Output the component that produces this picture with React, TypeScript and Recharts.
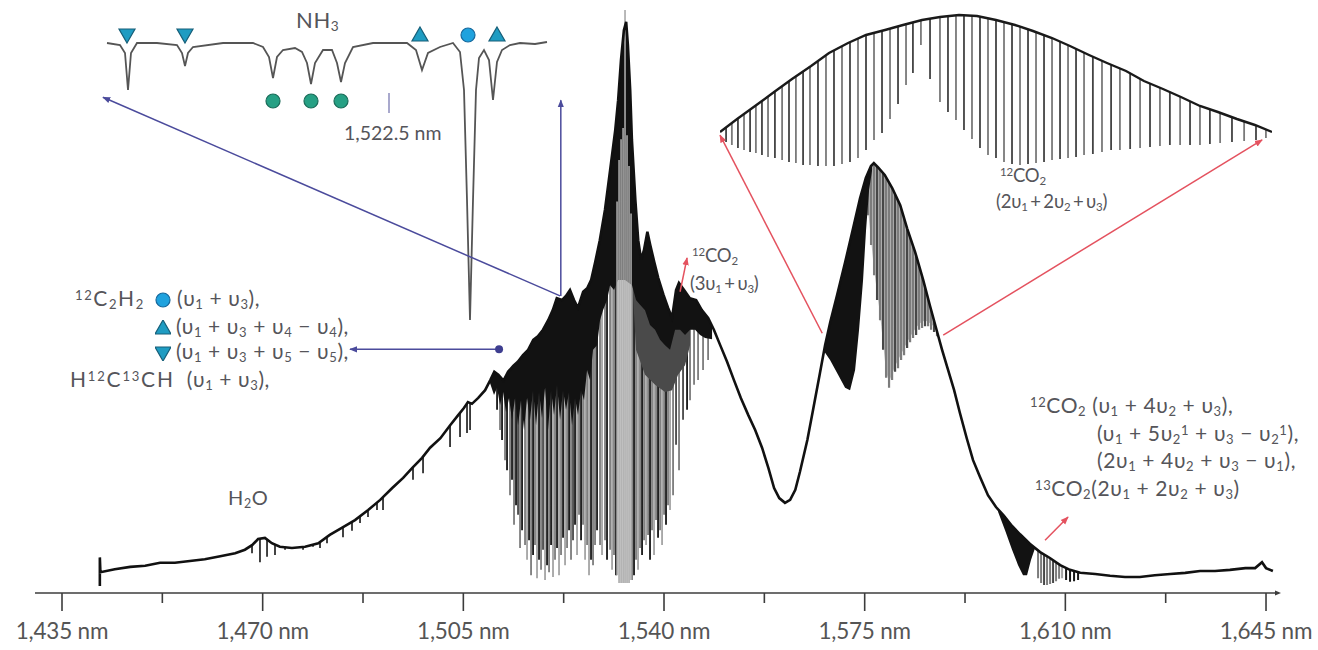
import React from 'react';
import { ComposedChart, Line, Area, Scatter, XAxis, YAxis } from 'recharts';

type Tone = 'k' | 'd' | 'g' | 'l';

// ---------------- main spectrum : wavelength (nm) vs relative power (a.u.) ----------------
const wavelengthDomain: [number, number] = [1430.29, 1647.09];
const powerDomain: [number, number] = [0, 100];
const majorTicks = [1435, 1470, 1505, 1540, 1575, 1610, 1645];
const minorTicks = [1452.5, 1487.5, 1522.5, 1557.5, 1592.5, 1627.5];

// upper edge of the transmitted comb spectrum
const envelope: [number, number][] = [
  [1441.6, 1.2], [1441.6, 6.0], [1441.7, 3.5], [1444.2, 4.0], [1446.9, 4.4], [1449.5, 4.6], [1452.1, 5.1],
  [1454.7, 5.1], [1457.3, 5.4], [1459.9, 5.7], [1462.6, 6.2], [1465.2, 6.7], [1466.9, 7.3], [1468.2, 8.1],
  [1469.2, 9.1], [1470.4, 9.3], [1471.6, 8.4], [1473.0, 7.8], [1475.1, 7.6], [1477.4, 7.8], [1479.7, 8.4],
  [1481.7, 9.8], [1483.8, 11.0], [1486.1, 12.3], [1488.4, 14.0], [1490.5, 15.7], [1492.6, 17.7], [1494.5, 19.4],
  [1496.1, 21.1], [1497.8, 22.8], [1499.2, 24.5], [1501.0, 26.1], [1502.7, 28.3], [1504.1, 30.0], [1505.1, 31.2],
  [1505.8, 32.2], [1506.5, 31.9], [1507.6, 32.9], [1508.8, 34.2], [1509.7, 35.9], [1510.4, 37.3], [1511.1, 36.8],
  [1512.0, 35.8], [1512.8, 37.3], [1513.7, 38.3], [1514.5, 39.0], [1515.4, 40.1], [1516.3, 41.0], [1517.2, 42.7],
  [1518.0, 43.3], [1518.9, 44.4], [1519.8, 46.0], [1520.6, 47.7], [1521.3, 49.7], [1522.2, 49.4], [1522.9, 50.1],
  [1523.6, 51.1], [1524.3, 49.4], [1525.0, 48.1], [1525.9, 50.8], [1526.6, 51.4], [1527.3, 52.8], [1528.0, 55.8],
  [1528.8, 59.5], [1529.7, 64.6], [1530.6, 71.3], [1531.5, 78.1], [1532.0, 83.1], [1532.5, 89.9], [1533.0, 94.9],
  [1533.4, 96.3], [1533.7, 92.4], [1534.1, 84.8], [1534.4, 76.4], [1535.0, 66.3], [1535.5, 59.5], [1536.0, 56.2],
  [1536.5, 57.8], [1537.1, 60.9], [1537.6, 58.7], [1538.3, 55.8], [1539.0, 53.1], [1539.9, 50.3], [1540.7, 48.1],
  [1541.4, 46.4], [1542.1, 51.1], [1542.6, 52.3], [1543.5, 51.1], [1544.5, 49.7], [1545.6, 49.4], [1546.6, 47.7],
  [1547.7, 46.4], [1548.7, 44.4], [1549.8, 41.8], [1551.0, 39.0], [1552.2, 35.9], [1553.4, 32.9], [1554.7, 30.0],
  [1555.9, 27.5], [1557.1, 24.5], [1558.2, 21.1], [1559.2, 17.7], [1560.1, 16.0], [1561.1, 15.2], [1562.0, 15.7],
  [1562.9, 17.4], [1563.7, 20.4], [1565.0, 25.8], [1566.0, 30.9], [1567.2, 37.1], [1568.1, 41.8], [1569.0, 45.7],
  [1570.2, 50.3], [1571.6, 55.8], [1573.0, 61.6], [1574.2, 66.6], [1575.2, 70.0], [1576.1, 72.0], [1576.6, 72.5],
  [1577.3, 71.8], [1578.5, 70.5], [1579.8, 68.3], [1581.2, 65.4], [1582.4, 61.5], [1583.8, 57.5], [1585.2, 52.8],
  [1586.4, 48.4], [1587.7, 43.8], [1588.5, 41.0], [1589.4, 38.1], [1590.6, 34.2], [1591.6, 30.4], [1592.8, 26.1],
  [1593.9, 22.4], [1595.1, 19.6], [1596.5, 16.5], [1597.9, 14.5], [1599.3, 13.0], [1600.7, 11.3], [1602.1, 9.9],
  [1603.8, 8.3], [1605.6, 6.9], [1607.3, 5.9], [1609.1, 4.7], [1610.8, 3.9], [1612.6, 3.4], [1615.2, 3.2],
  [1617.8, 2.9], [1620.4, 2.7], [1623.0, 2.7], [1625.6, 3.0], [1628.3, 3.2], [1630.9, 3.4], [1633.5, 3.7],
  [1636.1, 3.7], [1638.7, 3.9], [1641.4, 4.2], [1643.1, 4.2], [1644.3, 5.2], [1645.0, 4.2], [1646.2, 3.7],
];

// weak absorption lines (H2O etc.): [wavelength, lowest power]
const weakLines: [number, number][] = [
  [1468.14, 6.7], [1469.53, 5.2], [1470.76, 6.1], [1472.15, 6.4], [1473.9, 7.3], [1477.04, 7.3], [1478.78, 7.8],
  [1480.0, 7.6], [1481.22, 8.4], [1484.01, 9.4], [1485.58, 10.5], [1486.98, 11.8], [1488.37, 12.8], [1489.94, 14.0],
  [1490.99, 14.0], [1496.22, 19.1], [1497.97, 20.2], [1502.68, 24.6], [1504.42, 26.3], [1505.64, 27.0], [1506.17, 27.5],
];

// C2H2 / NH3 band lines: [wavelength, lowest power, shade]
const denseLines: [number, number, Tone][] = [
  [1510.88, 30.9, 'k'], [1511.4, 27.5, 'g'], [1511.75, 25.8, 'k'], [1512.27, 22.4, 'g'], [1512.62, 20.7, 'k'],
  [1513.14, 16.5, 'g'], [1513.49, 19.1, 'k'], [1513.84, 11.5, 'g'], [1514.19, 14.8, 'k'], [1514.54, 13.2, 'd'],
  [1514.89, 7.6, 'g'], [1515.24, 10.6, 'k'], [1515.76, 8.1, 'g'], [1516.11, 5.6, 'l'], [1516.46, 8.9, 'k'],
  [1516.81, 3.0, 'g'], [1517.16, 6.4, 'k'], [1517.5, 8.1, 'g'], [1517.85, 2.5, 'l'], [1518.2, 5.6, 'k'],
  [1518.55, 3.9, 'g'], [1518.9, 7.3, 'd'], [1519.25, 2.2, 'l'], [1519.6, 4.7, 'k'], [1519.95, 3.5, 'g'],
  [1520.3, 8.1, 'k'], [1520.64, 2.7, 'l'], [1520.99, 5.6, 'g'], [1521.34, 7.6, 'k'], [1521.69, 3.0, 'l'],
  [1522.04, 6.4, 'g'], [1522.39, 9.3, 'k'], [1522.74, 4.7, 'l'], [1523.09, 7.6, 'g'], [1523.44, 10.6, 'k'],
  [1523.78, 5.6, 'g'], [1524.13, 8.9, 'd'], [1524.48, 11.5, 'k'], [1524.83, 6.4, 'l'], [1525.18, 13.2, 'g'],
  [1525.53, 8.9, 'k'], [1525.88, 11.5, 'g'], [1526.23, 5.6, 'l'], [1526.58, 8.1, 'g'], [1526.92, 3.0, 'l'],
  [1527.27, 5.6, 'k'], [1527.62, 4.7, 'g'], [1527.97, 8.1, 'g'], [1528.32, 10.6, 'k'], [1528.84, 8.1, 'g'],
  [1529.19, 6.4, 'l'], [1529.71, 8.9, 'g'], [1530.06, 5.6, 'k'], [1530.59, 7.3, 'g'], [1530.94, 3.9, 'l'],
  [1531.28, 6.4, 'g'], [1531.63, 3.0, 'k'], [1534.42, 2.2, 'g'], [1534.77, 3.0, 'k'], [1535.12, 5.6, 'g'],
  [1535.47, 3.9, 'l'], [1535.82, 7.6, 'g'], [1536.17, 6.4, 'k'], [1536.52, 8.9, 'g'], [1536.87, 8.1, 'l'],
  [1537.22, 9.8, 'g'], [1537.56, 5.6, 'k'], [1537.91, 10.6, 'g'], [1538.26, 6.4, 'l'], [1538.61, 12.3, 'g'],
  [1538.96, 9.3, 'k'], [1539.31, 10.6, 'g'], [1539.66, 8.1, 'l'], [1540.01, 13.2, 'g'], [1540.35, 11.5, 'k'],
  [1540.7, 14.8, 'g'], [1541.05, 14.0, 'l'], [1541.58, 16.5, 'g'], [1542.1, 25.0, 'd'], [1542.62, 20.7, 'g'],
  [1543.32, 29.2, 'd'], [1544.02, 30.9, 'k'], [1544.54, 32.5, 'g'], [1545.24, 35.1, 'g'], [1545.94, 35.9, 'g'],
  [1546.81, 37.6, 'g'], [1547.69, 39.3, 'g'],
];

// central lines of the strongest peak: [wavelength, top, lowest power]
const peakLines: [number, number, number][] = [
  [1531.81, 66.0, 3.0], [1532.16, 73.0, 1.7], [1532.51, 76.5, 1.7], [1532.86, 78.4, 1.7],
  [1533.2, 98.3, 1.7], [1533.55, 77.2, 1.7], [1533.9, 72.0, 1.7], [1534.25, 64.0, 2.2],
];

// 12CO2 (2v1+2v2+v3) R-branch lines
const co2Lines: [number, number, Tone][] = [
  [1575.59, 63.7, 'g'], [1576.11, 58.7, 'g'], [1576.64, 53.6, 'g'], [1577.16, 49.4, 'd'], [1577.68, 46.0, 'g'],
  [1578.21, 41.0, 'd'], [1578.73, 36.3, 'g'], [1579.25, 34.6, 'g'], [1579.78, 35.9, 'g'], [1580.3, 37.3, 'd'],
  [1580.82, 37.9, 'g'], [1581.35, 39.3, 'g'], [1581.87, 40.1, 'g'], [1582.4, 41.3, 'd'], [1582.92, 42.3, 'g'],
  [1583.44, 43.0, 'g'], [1583.97, 43.5, 'd'], [1584.49, 44.4, 'g'], [1585.01, 44.7, 'g'], [1585.53, 45.0, 'd'],
  [1586.06, 45.0, 'g'], [1586.58, 44.4, 'g'], [1587.1, 44.0, 'd'], [1587.62, 43.3, 'g'],
];

// lines of the weak bands near 1,605 nm
const band1605Lines: [number, number, Tone][] = [
  [1605.24, 2.5, 'g'], [1605.77, 1.7, 'g'], [1606.29, 1.35, 'd'], [1606.81, 1.35, 'g'], [1607.34, 1.5, 'g'],
  [1607.86, 1.7, 'd'], [1608.38, 2.0, 'g'], [1608.91, 2.4, 'g'], [1609.43, 2.5, 'l'], [1610.13, 2.2, 'k'],
  [1610.82, 1.9, 'k'], [1611.52, 2.0, 'k'], [1612.22, 2.2, 'k'],
];

// fully absorbed (black) regions: lower edge [wavelength, power]
const blackBandC2H2: [number, number][] = [
  [1509.65, 35.4], [1510.35, 33.4], [1510.88, 34.6], [1511.4, 31.7], [1511.92, 33.9], [1512.45, 30.5],
  [1512.97, 32.9], [1513.49, 29.2], [1514.02, 32.9], [1514.54, 28.3], [1515.06, 32.5], [1515.59, 27.5],
  [1516.11, 32.9], [1516.63, 29.2], [1517.16, 34.2], [1517.68, 28.3], [1518.2, 33.9], [1518.72, 29.5],
  [1519.25, 34.6], [1519.77, 27.5], [1520.3, 34.2], [1520.82, 30.0], [1521.34, 35.1], [1521.87, 29.2],
  [1522.39, 34.2], [1522.91, 30.9], [1523.44, 33.9], [1523.96, 28.3], [1524.48, 32.9], [1525.0, 30.0],
  [1525.53, 34.2], [1526.05, 32.5], [1526.58, 37.6], [1527.1, 35.9], [1527.62, 41.0], [1528.32, 41.8],
  [1528.84, 46.0], [1529.36, 47.7], [1530.06, 49.4], [1530.59, 51.9], [1531.28, 51.1], [1531.98, 52.8],
  [1533.2, 52.8], [1534.42, 51.9], [1535.12, 49.4], [1535.82, 48.6], [1536.69, 47.7], [1537.56, 45.2],
  [1538.44, 44.4], [1539.31, 42.7], [1540.18, 41.8], [1541.05, 41.0], [1541.93, 44.4], [1542.8, 44.4],
  [1543.67, 43.5], [1544.54, 44.4], [1545.42, 44.4], [1546.29, 43.5], [1547.16, 43.0], [1548.38, 42.8],
];
const blackBandCO2: [number, number][] = [
  [1567.74, 41.0], [1568.96, 39.3], [1570.36, 36.8], [1571.58, 34.6], [1572.45, 34.2], [1573.33, 37.6],
  [1574.02, 44.4], [1574.72, 52.8], [1575.24, 61.2], [1575.77, 68.0], [1576.29, 71.3],
];
const blackBand1603: [number, number][] = [
  [1598.26, 13.7], [1599.48, 10.6], [1600.7, 7.3], [1601.75, 4.7], [1602.62, 3.0], [1603.32, 3.0],
  [1604.02, 5.6], [1604.72, 7.6],
];
// dense dark-grey region right of the strongest peak: lower edge
const darkBandRight: [number, number][] = [
  [1534.6, 50.0], [1535.12, 41.0], [1536.69, 36.8], [1538.44, 35.1], [1540.18, 33.9], [1541.4, 34.2],
  [1542.45, 36.8], [1543.67, 38.4], [1544.54, 41.8],
];
// light-grey filling between the 12CO2 R-branch lines: lower edge
const greyBandCO2: [number, number][] = [
  [1575.6, 64.5], [1576.64, 54.5], [1577.68, 47.0], [1578.73, 37.3], [1579.25, 35.6], [1580.3, 38.3],
  [1581.35, 40.3], [1582.4, 42.3], [1583.44, 44.0], [1584.49, 45.4], [1585.53, 46.0], [1586.58, 45.4],
  [1587.62, 44.3],
];

// ---------------- NH3 / C2H2 inset : wavelength (nm) vs transmission (a.u.) ----------------
const nh3Domain: [number, number] = [1521.08, 1523.305];
const nh3PowerDomain: [number, number] = [0, 310];
const nh3Trace: [number, number][] = [
  [1521.09, 287], [1521.155, 285], [1521.18, 277], [1521.195, 240], [1521.21, 277], [1521.24, 287], [1521.34, 287],
  [1521.44, 285], [1521.465, 277], [1521.48, 264], [1521.495, 277], [1521.52, 283], [1521.67, 287], [1521.82, 287],
  [1521.87, 283], [1521.9, 273], [1521.92, 252], [1521.94, 273], [1521.97, 280], [1522.03, 282], [1522.065, 278],
  [1522.09, 267], [1522.11, 246], [1522.13, 267], [1522.17, 280], [1522.215, 280], [1522.24, 267], [1522.26, 248],
  [1522.28, 267], [1522.32, 283], [1522.42, 287], [1522.59, 287], [1522.635, 280], [1522.665, 260], [1522.695, 277],
  [1522.755, 283], [1522.82, 287], [1522.855, 278], [1522.875, 240], [1522.89, 130], [1522.905, 10], [1522.92, 130],
  [1522.935, 240], [1522.95, 272], [1522.975, 280], [1523.0, 270], [1523.02, 230], [1523.04, 268], [1523.065, 280],
  [1523.105, 285], [1523.155, 287], [1523.23, 286], [1523.29, 288],
];
type MarkKind = 'down' | 'up' | 'blue' | 'green';
const nh3Markers: [number, number, MarkKind][] = [
  [1521.19, 295, 'down'], [1521.48, 295, 'down'], [1521.92, 229, 'green'], [1522.11, 229, 'green'],
  [1522.26, 229, 'green'], [1522.655, 295, 'up'], [1522.895, 295, 'blue'], [1523.04, 295, 'up'],
];
const nh3RefWavelength = 1522.5;

// ---------------- 12CO2 (2v1+2v2+v3) inset ----------------
const co2InsetDomain: [number, number] = [1568, 1588];
const co2InsetPowerDomain: [number, number] = [0, 160];
const co2Arch: [number, number][] = [
  [1568.0, 38], [1568.62, 51], [1569.27, 64], [1569.96, 78], [1570.61, 91], [1571.3, 104], [1571.95, 117],
  [1572.64, 127], [1573.29, 135], [1573.98, 140], [1574.63, 145], [1575.32, 150], [1575.97, 153], [1576.66, 155],
  [1577.31, 154], [1578.0, 150], [1578.69, 145], [1579.34, 139], [1580.03, 132], [1580.68, 124], [1581.37, 115],
  [1582.02, 107], [1582.71, 99], [1583.36, 89], [1584.05, 81], [1584.7, 73], [1585.39, 64], [1586.04, 58],
  [1586.73, 51], [1587.38, 45], [1588.0, 38],
];
const co2InsetLines: [number, number, Tone][] = [
  [1568.22, 28, 'd'], [1568.43, 25, 'g'], [1568.65, 22, 'd'], [1568.87, 20, 'g'], [1569.09, 18, 'd'],
  [1569.3, 17, 'g'], [1569.52, 15, 'd'], [1569.74, 13, 'g'], [1569.99, 12, 'd'], [1570.25, 10, 'g'],
  [1570.5, 8, 'd'], [1570.75, 7, 'g'], [1571.01, 5, 'd'], [1571.26, 5, 'g'], [1571.55, 4, 'd'],
  [1571.84, 4, 'g'], [1572.13, 4, 'd'], [1572.42, 6, 'g'], [1572.71, 8, 'd'], [1573.0, 12, 'g'],
  [1573.29, 20, 'd'], [1573.58, 30, 'g'], [1573.87, 37, 'd'], [1574.16, 51, 'g'], [1574.45, 66, 'd'],
  [1574.74, 85, 'g'], [1574.99, 97, 'd'], [1575.28, 125, 'g'], [1575.61, 91, 'd'], [1575.97, 68, 'g'],
  [1576.26, 58, 'd'], [1576.55, 50, 'g'], [1576.84, 40, 'd'], [1577.13, 31, 'g'], [1577.42, 22, 'd'],
  [1577.71, 15, 'g'], [1578.0, 12, 'd'], [1578.29, 8, 'g'], [1578.58, 6, 'd'], [1578.87, 5, 'g'],
  [1579.16, 6, 'd'], [1579.45, 7, 'g'], [1579.74, 8, 'd'], [1580.03, 10, 'g'], [1580.32, 11, 'd'],
  [1580.61, 12, 'g'], [1580.9, 13, 'd'], [1581.19, 15, 'g'], [1581.51, 16, 'd'], [1581.84, 18, 'g'],
  [1582.17, 20, 'd'], [1582.49, 20, 'g'], [1582.86, 21, 'd'], [1583.22, 22, 'g'], [1583.58, 23, 'd'],
  [1583.94, 24, 'g'], [1584.3, 25, 'd'], [1584.67, 25, 'g'], [1585.03, 25, 'd'], [1585.39, 25, 'g'],
  [1585.75, 26, 'd'], [1586.12, 27, 'g'], [1586.55, 28, 'd'], [1586.99, 29, 'g'], [1587.42, 30, 'd'],
  [1587.78, 32, 'g'],
];

// ---------------- annotation arrows (main-spectrum coordinates) ----------------
const arrows: { from: [number, number]; to: [number, number]; color: 'blue' | 'red' }[] = [
  { from: [1521.87, 50.1], to: [1442.15, 83.6], color: 'blue' },
  { from: [1522.0, 50.1], to: [1522.0, 83.1], color: 'blue' },
  { from: [1511.23, 41.1], to: [1485.23, 41.1], color: 'blue' },
  { from: [1542.8, 50.8], to: [1544.02, 56.5], color: 'red' },
  { from: [1567.6, 43.8], to: [1549.77, 77.2], color: 'red' },
  { from: [1588.7, 43.5], to: [1644.32, 76.4], color: 'red' },
  { from: [1606.46, 8.9], to: [1610.47, 12.8], color: 'red' },
];
const arrowDot: [number, number] = [1511.23, 41.1];

// ---------------- styling ----------------
const toneColor: Record<Tone, string> = { k: '#161616', d: '#474747', g: '#7c7c7c', l: '#a4a4a4' };
const BLUE = '#4b4b9c';
const RED = '#e4525f';
const FONT = "Lato, 'Open Sans', sans-serif";
const TEXT_COLOR = '#55555a';

type Pt = { x: number; y: number | null };
const pts = (arr: [number, number][]): Pt[] => arr.map(([x, y]) => ({ x, y }));
const segments = (arr: { x: number; lo: number; hi: number }[]): Pt[] =>
  arr.flatMap((s) => [
    { x: s.x, y: s.lo },
    { x: s.x, y: s.hi },
    { x: s.x, y: null },
  ]);

const maskedLines = [
  ...weakLines.map(([x, lo]) => ({ x, lo, tone: 'k' as Tone, w: 1.6 })),
  ...denseLines.map(([x, lo, tone]) => ({ x, lo, tone, w: 1.8 })),
  ...co2Lines.map(([x, lo, tone]) => ({ x, lo, tone, w: 2.2 })),
  ...band1605Lines.map(([x, lo, tone]) => ({ x, lo, tone, w: 2.0 })),
];
const toneOrder: Tone[] = ['l', 'g', 'd', 'k'];
const widths = [1.6, 1.8, 2.0, 2.2];

const AxisTick = (props: any) => {
  const { x, y, payload } = props;
  const major = majorTicks.includes(payload.value);
  return (
    <g>
      <line x1={x} x2={x} y1={y} y2={y + (major ? 18 : 10)} stroke="#3c3c3c" strokeWidth={1.6} />
      {major && (
        <text x={x} y={y + 46} textAnchor="middle" fontFamily={FONT} fontSize={22.5} fill="#555"
          letterSpacing={-0.2}>
          {payload.value.toLocaleString('en-US')} nm
        </text>
      )}
    </g>
  );
};

const MainSpectrum = () => (
  <ComposedChart width={1318} height={650} margin={{ top: 0, right: 40, bottom: 0, left: 35 }}>
    <XAxis
      type="number"
      dataKey="x"
      domain={wavelengthDomain}
      allowDataOverflow
      ticks={[...majorTicks, ...minorTicks].sort((a, b) => a - b)}
      interval={0}
      tick={(p: any) => <AxisTick {...p} />}
      tickLine={false}
      tickSize={0}
      tickMargin={0}
      height={57}
      axisLine={{ stroke: '#3c3c3c', strokeWidth: 1.6, markerEnd: 'url(#axisEnd)' } as any}
    />
    <YAxis type="number" domain={powerDomain} allowDataOverflow hide />
    <Area data={pts(greyBandCO2)} dataKey="y" baseValue={powerDomain[1]} fill="#b9b9b9" fillOpacity={1}
      stroke="none" isAnimationActive={false} zIndex={95} />
    {toneOrder.flatMap((t, i) =>
      widths.map((w, j) => {
        const sel = maskedLines.filter((l) => l.tone === t && Math.abs(l.w - w) < 0.01);
        if (!sel.length) return null;
        return (
          <Line
            key={'tone' + t + j}
            data={segments(sel.map((l) => ({ x: l.x, lo: l.lo, hi: powerDomain[1] })))}
            dataKey="y"
            stroke={toneColor[t]}
            strokeWidth={w}
            dot={false}
            activeDot={false}
            connectNulls={false}
            isAnimationActive={false}
            zIndex={100 + i}
          />
        );
      })
    )}
    <Area data={pts(darkBandRight)} dataKey="y" baseValue={powerDomain[1]} fill="#4a4a4a" fillOpacity={1}
      stroke="none" isAnimationActive={false} zIndex={110} />
    {[blackBandC2H2, blackBandCO2, blackBand1603].map((b, i) => (
      <Area key={'black' + i} data={pts(b)} dataKey="y" baseValue={powerDomain[1]} fill="#121212" fillOpacity={1}
        stroke="none" isAnimationActive={false} zIndex={120} />
    ))}
    <Area data={pts(envelope)} dataKey="y" baseValue={powerDomain[1]} fill="#ffffff" fillOpacity={1} stroke="none"
      isAnimationActive={false} zIndex={130} />
    <Line
      data={segments(peakLines.map(([x, hi, lo]) => ({ x, lo, hi })))}
      dataKey="y"
      stroke="#a8a8a8"
      strokeWidth={1.6}
      dot={false}
      activeDot={false}
      connectNulls={false}
      isAnimationActive={false}
      zIndex={140}
    />
    <Line data={pts(envelope)} dataKey="y" stroke="#111" strokeWidth={2.6} dot={false} activeDot={false}
      isAnimationActive={false} zIndex={150} />
  </ComposedChart>
);

const MarkerShape = (props: any) => {
  const { cx, cy, payload } = props;
  const k: MarkKind = payload.kind;
  if (k === 'blue') return <circle cx={cx} cy={cy} r={7} fill="#1fa2de" stroke="#17689c" strokeWidth={1.2} />;
  if (k === 'green') return <circle cx={cx} cy={cy} r={7} fill="#26a084" stroke="#1b6c59" strokeWidth={1.2} />;
  const s = 8;
  const d = k === 'up'
    ? `M${cx},${cy - s} L${cx + s},${cy + s * 0.75} L${cx - s},${cy + s * 0.75} Z`
    : `M${cx},${cy + s} L${cx + s},${cy - s * 0.75} L${cx - s},${cy - s * 0.75} Z`;
  return <path d={d} fill="#1f9cc2" stroke="#165e78" strokeWidth={1.2} />;
};

const Nh3Inset = () => (
  <ComposedChart width={445} height={310} margin={{ top: 0, right: 0, bottom: 0, left: 0 }}>
    <XAxis type="number" dataKey="x" domain={nh3Domain} allowDataOverflow hide />
    <YAxis type="number" domain={nh3PowerDomain} allowDataOverflow hide />
    <Line data={pts(nh3Trace)} dataKey="y" stroke="#555" strokeWidth={1.8} dot={false} activeDot={false}
      isAnimationActive={false} />
    <Line data={[{ x: nh3RefWavelength, y: 217 }, { x: nh3RefWavelength, y: 237 }]} dataKey="y" stroke="#8c8cbc"
      strokeWidth={1.5} dot={false} activeDot={false} isAnimationActive={false} />
    <Scatter data={nh3Markers.map(([x, y, kind]) => ({ x, y, kind }))} dataKey="y" shape={(p: any) => <MarkerShape {...p} />}
      isAnimationActive={false} />
  </ComposedChart>
);

const Co2Inset = () => (
  <ComposedChart width={552} height={160} margin={{ top: 0, right: 0, bottom: 0, left: 0 }}>
    <XAxis type="number" dataKey="x" domain={co2InsetDomain} allowDataOverflow hide />
    <YAxis type="number" domain={co2InsetPowerDomain} allowDataOverflow hide />
    {(['g', 'd'] as Tone[]).map((t, i) => (
      <Line
        key={'ct' + t}
        data={segments(co2InsetLines.filter((l) => l[2] === t).map(([x, lo]) => ({ x, lo, hi: co2InsetPowerDomain[1] })))}
        dataKey="y"
        stroke={t === 'd' ? '#444' : '#7a7a7a'}
        strokeWidth={1.8}
        dot={false}
        activeDot={false}
        connectNulls={false}
        isAnimationActive={false}
        zIndex={100 + i}
      />
    ))}
    <Area data={pts(co2Arch)} dataKey="y" baseValue={co2InsetPowerDomain[1]} fill="#fff" fillOpacity={1} stroke="none"
      isAnimationActive={false} zIndex={130} />
    <Line data={pts(co2Arch)} dataKey="y" stroke="#1a1a1a" strokeWidth={2.4} dot={false} activeDot={false}
      isAnimationActive={false} zIndex={150} />
  </ComposedChart>
);

const ArrowOverlay = () => (
  <ComposedChart width={1318} height={650} margin={{ top: 0, right: 40, bottom: 57, left: 35 }}>
    <XAxis type="number" dataKey="x" domain={wavelengthDomain} allowDataOverflow hide />
    <YAxis type="number" domain={powerDomain} allowDataOverflow hide />
    {arrows.map((a, i) => (
      <Line
        key={'arrow' + i}
        data={[{ x: a.from[0], y: a.from[1] }, { x: a.to[0], y: a.to[1] }]}
        dataKey="y"
        stroke={a.color === 'blue' ? BLUE : RED}
        strokeWidth={1.5}
        dot={false}
        activeDot={false}
        markerEnd={a.color === 'blue' ? 'url(#ahBlue)' : 'url(#ahRed)'}
        isAnimationActive={false}
      />
    ))}
    <Scatter data={[{ x: arrowDot[0], y: arrowDot[1] }]} dataKey="y"
      shape={(p: any) => <circle cx={p.cx} cy={p.cy} r={4} fill="#3e3e90" />} isAnimationActive={false} />
  </ComposedChart>
);

const ArrowDefs = () => (
  <svg width={0} height={0} style={{ position: 'absolute' }}>
    <defs>
      <marker id="ahBlue" viewBox="0 0 10 10" refX={9} refY={5} markerWidth={8} markerHeight={8}
        markerUnits="userSpaceOnUse" orient="auto">
        <path d="M0,1 L10,5 L0,9 Z" fill={BLUE} />
      </marker>
      <marker id="ahRed" viewBox="0 0 10 10" refX={9} refY={5} markerWidth={8} markerHeight={8}
        markerUnits="userSpaceOnUse" orient="auto">
        <path d="M0,1 L10,5 L0,9 Z" fill={RED} />
      </marker>
      <marker id="axisEnd" viewBox="0 0 10 10" refX={5} refY={5} markerWidth={6} markerHeight={6}
        markerUnits="userSpaceOnUse" orient="auto">
        <path d="M0,1 L10,5 L0,9 Z" fill="#3c3c3c" />
      </marker>
    </defs>
  </svg>
);

// ---------------- text ----------------
const TXT: React.CSSProperties = {
  position: 'absolute', fontFamily: FONT, fontSize: 21, color: TEXT_COLOR, lineHeight: '22px', whiteSpace: 'nowrap',
  letterSpacing: 0.6,
};
const SMALL: React.CSSProperties = { ...TXT, fontSize: 18.5, lineHeight: '19px', letterSpacing: -0.2, wordSpacing: -2 };
const Sup = ({ children }: { children: React.ReactNode }) => (
  <span style={{ fontSize: '0.62em', verticalAlign: '0.5em', lineHeight: 0 }}>{children}</span>
);
const Sub = ({ children }: { children: React.ReactNode }) => (
  <span style={{ fontSize: '0.62em', verticalAlign: '-0.25em', lineHeight: 0 }}>{children}</span>
);
const U = ({ n }: { n: string }) => (
  <>
    υ<Sub>{n}</Sub>
  </>
);
const Icon = ({ kind, ml = 4, mr = 6 }: { kind: MarkKind; ml?: number; mr?: number }) => (
  <svg width={16} height={16} style={{ verticalAlign: '-2px', marginLeft: ml, marginRight: mr }}>
    <MarkerShape cx={8} cy={8} payload={{ kind }} />
  </svg>
);

const Labels = () => (
  <>
    <div style={{ ...TXT, fontSize: 22, left: 296, top: 9 }}>NH<Sub>3</Sub></div>
    <div style={{ ...TXT, fontSize: 19.5, letterSpacing: 0, left: 344, top: 122 }}>1,522.5 nm</div>
    <div style={{ ...SMALL, left: 692, top: 246 }}><Sup>12</Sup>CO<Sub>2</Sub></div>
    <div style={{ ...SMALL, left: 690, top: 274 }}>(3<U n="1" /> + <U n="3" />)</div>
    <div style={{ ...SMALL, left: 1000, top: 166 }}><Sup>12</Sup>CO<Sub>2</Sub></div>
    <div style={{ ...SMALL, left: 996, top: 192 }}>(2<U n="1" /> + 2<U n="2" /> + <U n="3" />)</div>
    <div style={{ ...TXT, left: 75, top: 287 }}>
      <span style={{ letterSpacing: 1.6 }}><Sup>12</Sup>C<Sub>2</Sub>H<Sub>2</Sub></span>
      <Icon kind="blue" ml={10} mr={6} />(<U n="1" /> + <U n="3" />),
    </div>
    <div style={{ ...TXT, left: 155, top: 315 }}>
      <Icon kind="up" ml={0} mr={5} />(<U n="1" /> + <U n="3" /> + <U n="4" /> − <U n="4" />),
    </div>
    <div style={{ ...TXT, left: 155, top: 340 }}>
      <Icon kind="down" ml={0} mr={5} />(<U n="1" /> + <U n="3" /> + <U n="5" /> − <U n="5" />),
    </div>
    <div style={{ ...TXT, left: 70, top: 368 }}>
      <span style={{ letterSpacing: 1.8 }}>H<Sup>12</Sup>C<Sup>13</Sup>CH</span>&nbsp;&nbsp;(<U n="1" /> + <U n="3" />),
    </div>
    <div style={{ ...TXT, fontSize: 20, left: 228, top: 486 }}>H<Sub>2</Sub>O</div>
    <div style={{ ...TXT, left: 1030, top: 394 }}>
      <Sup>12</Sup>CO<Sub>2</Sub> (<U n="1" /> + 4<U n="2" /> + <U n="3" />),
    </div>
    <div style={{ ...TXT, left: 1097, top: 422 }}>
      (<U n="1" /> + 5<U n="2" /><Sup>1</Sup> + <U n="3" /> − <U n="2" /><Sup>1</Sup>),
    </div>
    <div style={{ ...TXT, left: 1097, top: 449 }}>
      (2<U n="1" /> + 4<U n="2" /> + <U n="3" /> − <U n="1" />),
    </div>
    <div style={{ ...TXT, left: 1035, top: 477 }}>
      <Sup>13</Sup>CO<Sub>2</Sub>(2<U n="1" /> + 2<U n="2" /> + <U n="3" />)
    </div>
  </>
);

export default function App() {
  return (
    <div style={{ position: 'absolute', left: 0, top: 0, width: 1318, height: 650, background: '#fff', overflow: 'hidden' }}>
      <ArrowDefs />
      <div style={{ position: 'absolute', left: 0, top: 0 }}>
        <MainSpectrum />
      </div>
      <div style={{ position: 'absolute', left: 105, top: 20 }}>
        <Nh3Inset />
      </div>
      <div style={{ position: 'absolute', left: 720, top: 10 }}>
        <Co2Inset />
      </div>
      <div style={{ position: 'absolute', left: 0, top: 0 }}>
        <ArrowOverlay />
      </div>
      <Labels />
    </div>
  );
}
